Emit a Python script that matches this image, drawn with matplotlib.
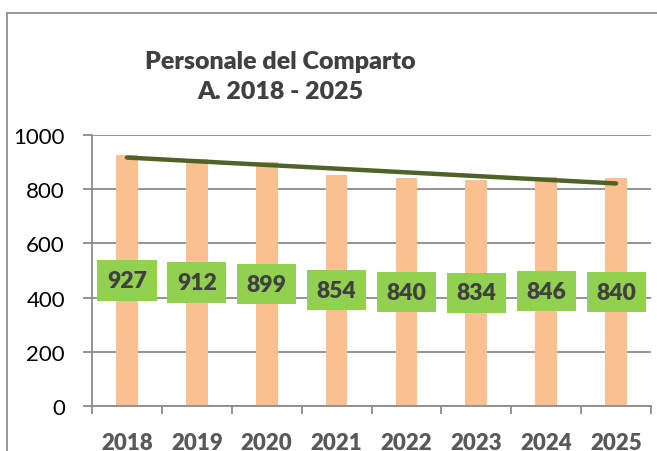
import numpy as np
import matplotlib.pyplot as plt
from matplotlib.patches import Rectangle

plt.rcParams['font.family'] = ['Lato', 'DejaVu Sans']

# --- dati ---
anni = ['2018', '2019', '2020', '2021', '2022', '2023', '2024', '2025']
personale = [927, 912, 899, 854, 840, 834, 846, 840]
titolo = 'Personale del Comparto\nA. 2018 - 2025'

W, H = 657, 452
fig = plt.figure(figsize=(W / 100, H / 100), dpi=100)

# bordo del grafico (esce dal ritaglio a destra e in basso)
fig.patches.append(Rectangle((7 / W, -0.05), 1.1, 1 - 14 / H + 0.05,
                             transform=fig.transFigure, fill=False,
                             edgecolor='#868686', linewidth=1.2))

ax = fig.add_axes([92 / W, 45 / H, (651 - 92) / W, (407 - 136) / H])
x = np.arange(len(anni))

ax.bar(x, personale, width=0.31, color='#FAC090', zorder=2)

# linea di tendenza lineare (come in Excel)
coef = np.polyfit(x, personale, 1)
ax.plot([x[0], x[-1]], np.polyval(coef, [x[0], x[-1]]), color='#4F6228',
        linewidth=3.2, solid_capstyle='round', zorder=3)

# etichette dati al centro delle barre
for xi, v in zip(x, personale):
    ax.text(xi, v / 2, str(v), ha='center', va='center', fontsize=16.5,
            fontweight='heavy', color='#404040', zorder=4,
            bbox=dict(boxstyle='square,pad=0.42', facecolor='#92D050',
                      edgecolor='none'))

ax.set_xlim(-0.5, len(anni) - 0.5)
ax.set_ylim(0, 1000)
ax.set_yticks(range(0, 1001, 200))
ax.grid(axis='y', color='#8C8C8C', linewidth=1.3, zorder=1)
ax.set_axisbelow(True)

ax.set_xticks(x)
ax.set_xticklabels(anni, fontsize=16, fontweight='heavy', color='#595959')
ax.set_xticks(np.arange(-0.5, len(anni)), minor=True)
ax.tick_params(axis='x', which='major', length=0, pad=19)
ax.tick_params(axis='x', which='minor', length=6, width=1.3, color='#8C8C8C')
ax.tick_params(axis='y', length=6.5, width=1.3, color='#8C8C8C', pad=13,
               labelsize=16, labelcolor='black')

for s in ['top', 'right']:
    ax.spines[s].set_visible(False)
for s in ['left', 'bottom']:
    ax.spines[s].set_color('#8C8C8C')
    ax.spines[s].set_linewidth(1.3)

fig.text(280 / W, 1 - 77 / H, titolo, ha='center', va='center', fontsize=18,
         fontweight='heavy', color='#404040', linespacing=1.45)

fig.savefig('out.png', dpi=100)
